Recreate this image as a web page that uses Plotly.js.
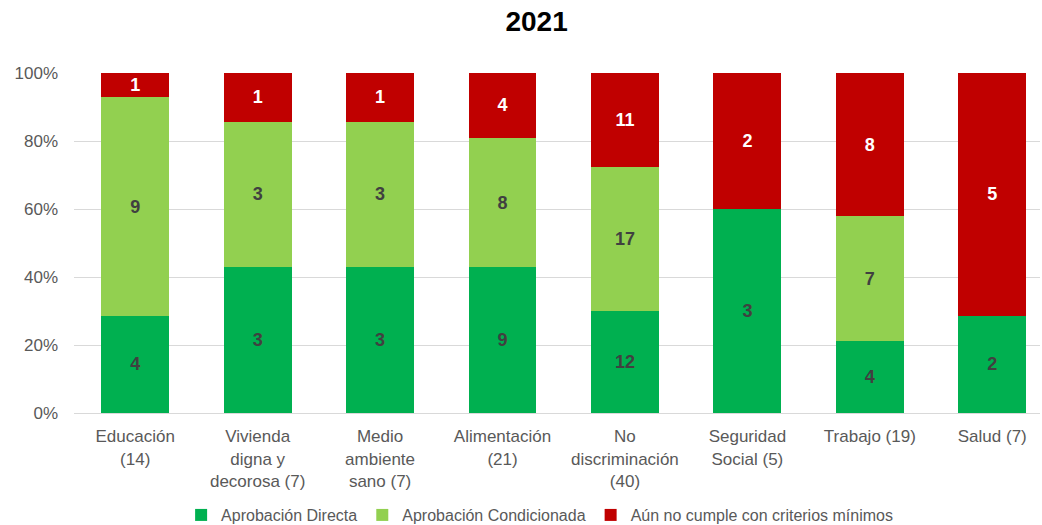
<!DOCTYPE html>
<html><head><meta charset="utf-8">
<script src="https://cdn.plot.ly/plotly-3.0.1.min.js"></script>
<style>html,body{margin:0;padding:0;background:#fff}#chart{width:1042px;height:525px}</style>
</head><body><div id="chart"></div>
<script>
const categories = ["Educación<br>(14)", "Vivienda<br>digna y<br>decorosa (7)", "Medio<br>ambiente<br>sano (7)", "Alimentación<br>(21)", "No<br>discriminación<br>(40)", "Seguridad<br>Social (5)", "Trabajo (19)", "Salud (7)"];
const directa = [4, 3, 3, 9, 12, 3, 4, 2];
const condicionada = [9, 3, 3, 8, 17, 0, 7, 0];
const noCumple = [1, 1, 1, 4, 11, 2, 8, 5];
const seriesNames = ["Aprobación Directa", "Aprobación Condicionada", "Aún no cumple con criterios mínimos"];
const yTicks = [0, 20, 40, 60, 80, 100];
const yTickLabels = ["0%", "20%", "40%", "60%", "80%", "100%"];

const colors = ["#00B050", "#92D050", "#C00000"];
const textColors = ["#404040", "#404040", "#FFFFFF"];
const font = "Liberation Sans, Arial, sans-serif";
const series = [directa, condicionada, noCumple];
const traces = series.map((vals, i) => ({
  type: 'bar',
  name: seriesNames[i],
  x: categories,
  y: vals,
  text: vals.map(v => v === 0 ? '' : String(v)),
  texttemplate: '%{text}',
  textposition: 'inside',
  insidetextanchor: 'middle',
  textangle: 0,
  constraintext: 'none',
  textfont: {family: font, size: 18, color: textColors[i], weight: 'bold'},
  marker: {color: colors[i], line: {width: 0}},
  hoverinfo: 'none',
  width: 0.555
}));

const layout = {
  width: 1042, height: 525,
  margin: {l: 74, r: 2, t: 73, b: 112},
  paper_bgcolor: '#fff', plot_bgcolor: '#fff',
  barmode: 'stack',
  barnorm: 'percent',
  title: {text: '<b>2021</b>', x: 0.515, xanchor: 'center', y: 0.959, yanchor: 'middle', font: {family: font, size: 28, color: '#000'}},
  xaxis: {
    range: [-0.5, 7.39],
    tickfont: {family: font, size: 17, color: '#595959'},
    showgrid: false, showline: true, linecolor: '#D9D9D9', linewidth: 1,
    ticks: '', ticklabelstandoff: 8, fixedrange: true, automargin: false
  },
  yaxis: {
    range: [0, 100],
    tickvals: yTicks, ticktext: yTickLabels,
    tickfont: {family: font, size: 17, color: '#595959'},
    showgrid: true, gridcolor: '#D9D9D9', gridwidth: 1,
    zeroline: false, showline: false, ticks: '', ticklen: 0,
    ticklabelstandoff: 15, fixedrange: true, automargin: false
  },
  uniformtext: {mode: 'show', minsize: 18},
  showlegend: true,
  legend: {orientation: 'h', x: 0.482, xanchor: 'center', y: 0.019, yanchor: 'middle',
    yref: 'container', font: {family: font, size: 16, color: '#595959'}, itemwidth: 30, traceorder: 'normal'}
};
Plotly.newPlot('chart', traces, layout, {displayModeBar: false, staticPlot: true});
</script></body></html>
